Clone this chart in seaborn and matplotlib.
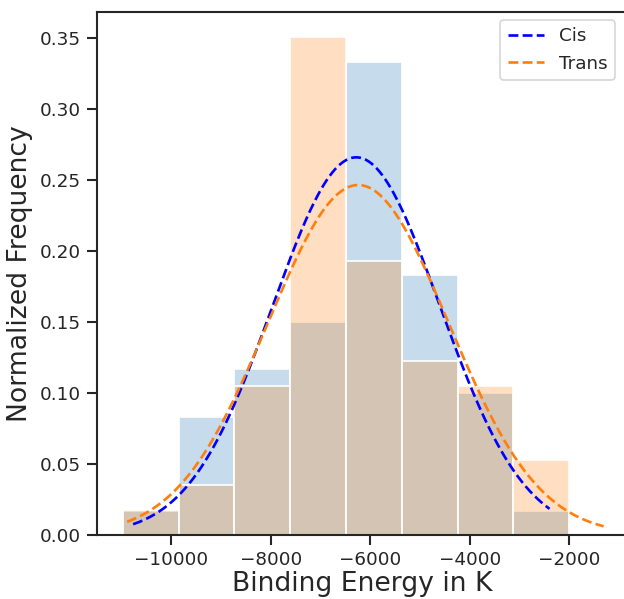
import numpy as np
import pandas as pd
import matplotlib
matplotlib.use("Agg")
import matplotlib.pyplot as plt
import seaborn as sns

# Histogram bins (shared) and normalized frequencies
bin_edges = [-10970, -9849, -8728, -7606, -6485, -5364, -4243, -3121, -2000]
cis_freq = [1/60, 5/60, 7/60, 9/60, 20/60, 11/60, 6/60, 1/60]
trans_freq = [1/57, 2/57, 6/57, 20/57, 11/57, 7/57, 6/57, 3/57]

# Normal fits (mean, std) and plotted range
cis_fit = {"mean": -6280, "std": 1681, "lo": -10764, "hi": -2396}
trans_fit = {"mean": -6240, "std": 1814, "lo": -10884, "hi": -1310}

BLUE_BAR = "#1f77b4"
ORANGE = "#ff7f0e"

sns.set_theme(style="ticks", context="notebook")

fig = plt.figure(figsize=(624 / 120, 599 / 120), dpi=120)
ax = fig.add_axes([97 / 624, 64 / 599, (628 - 97) / 624, (535 - 12) / 599])

edges = np.array(bin_edges, dtype=float)
centers = (edges[:-1] + edges[1:]) / 2
width = edges[1] - edges[0]

df_cis = pd.DataFrame({"x": centers, "w": cis_freq})
df_trans = pd.DataFrame({"x": centers, "w": trans_freq})

sns.histplot(data=df_cis, x="x", weights="w", bins=list(edges), color=BLUE_BAR, alpha=0.25,
             edgecolor="white", linewidth=1, ax=ax)
sns.histplot(data=df_trans, x="x", weights="w", bins=list(edges), color=ORANGE, alpha=0.25,
             edgecolor="white", linewidth=1, ax=ax)


def fit_curve(p):
    xs = np.linspace(p["lo"], p["hi"], 300)
    ys = width * np.exp(-0.5 * ((xs - p["mean"]) / p["std"]) ** 2) / (p["std"] * np.sqrt(2 * np.pi))
    return xs, ys


xc, yc = fit_curve(cis_fit)
xt, yt = fit_curve(trans_fit)
sns.lineplot(x=xc, y=yc, color="blue", linestyle="--", linewidth=1.6, label="Cis", ax=ax)
sns.lineplot(x=xt, y=yt, color=ORANGE, linestyle="--", linewidth=1.6, label="Trans", ax=ax)

ax.set_xlim(-11490, -820)
ax.set_ylim(0, 0.3684)
ax.set_xticks([-10000, -8000, -6000, -4000, -2000])
ax.set_xlabel("Binding Energy in K", fontsize=16, labelpad=1.5)
ax.set_ylabel("Normalized Frequency", fontsize=16)
ax.legend(loc="upper right", bbox_to_anchor=(0.9925, 1.002), fontsize=11)

fig.savefig("out.png", dpi=120)
